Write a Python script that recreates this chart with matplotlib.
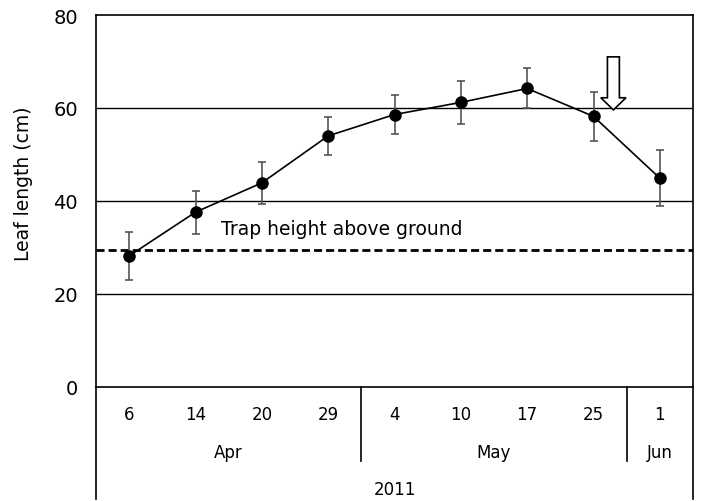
import matplotlib
matplotlib.use("Agg")
import matplotlib.pyplot as plt
from matplotlib.patches import FancyArrow
import matplotlib.transforms as mtransforms

plt.rcParams['font.family'] = ['DejaVu Sans']

# data
days = ['6', '14', '20', '29', '4', '10', '17', '25', '1']
months = ['Apr', 'May', 'Jun']
month_counts = [4, 4, 1]
year = '2011'
leaf_len = [28.2, 37.6, 43.9, 54.0, 58.6, 61.2, 64.2, 58.2, 44.9]
leaf_err = [5.1, 4.6, 4.5, 4.0, 4.2, 4.7, 4.3, 5.2, 6.0]
trap_height = 29.5

fig = plt.figure(figsize=(7.02, 5.02), dpi=100)
ax = fig.add_axes([96/702, 1-388/502, 597/702, 372/502])

x = list(range(len(days)))

# horizontal grid
for g in [20, 40, 60]:
    ax.axhline(g, color='black', lw=1.0, zorder=1)

# trap line + label
ax.axhline(trap_height, color='black', lw=2, dashes=(2.9, 1.45), zorder=2)
ax.text(1.38, 34, 'Trap height above ground', fontsize=13.5, va='center', ha='left')

ax.errorbar(x, leaf_len, yerr=leaf_err, fmt='none', ecolor='#555555',
            elinewidth=1.2, capsize=3, capthick=1.2, zorder=3)
ax.plot(x, leaf_len, color='black', lw=1.2, marker='o', ms=8, zorder=4)

# open arrow
arr = FancyArrow(7.3, 71, 0, 59.6 - 71, width=0.18, head_width=0.38,
                 head_length=2.6, length_includes_head=True,
                 facecolor='white', edgecolor='black', lw=1.2, zorder=5)
ax.add_patch(arr)

ax.set_xlim(-0.5, len(days) - 0.5)
ax.set_ylim(0, 80)
ax.set_yticks([0, 20, 40, 60, 80])
ax.tick_params(axis='y', length=0, pad=13, labelsize=14)
ax.set_xticks([])
ax.set_ylabel('Leaf length (cm)', fontsize=13.5)
ax.yaxis.set_label_coords(-0.105, 0.55)
for s in ax.spines.values():
    s.set_linewidth(1.2)
    s.set_color('black')

# hierarchical category labels below the axis
trans = mtransforms.blended_transform_factory(ax.transData, ax.transAxes)
for i, d in enumerate(days):
    ax.text(i, -0.073, d, transform=trans, ha='center', va='center', fontsize=12)

start = -0.5
for m, n in zip(months, month_counts):
    ax.text(start + n / 2, -0.175, m, transform=trans, ha='center', va='center', fontsize=12)
    end = start + n
    if end < len(days) - 0.5:
        ax.plot([end, end], [0, -0.199], transform=trans, color='black', lw=1.2, clip_on=False)
    start = end

ax.text((len(days) - 1) / 2, -0.275, year, transform=trans, ha='center', va='center', fontsize=12)
for xe in [-0.5, len(days) - 0.5]:
    ax.plot([xe, xe], [0, -0.30], transform=trans, color='black', lw=1.2, clip_on=False)

fig.savefig('out.png', dpi=100)
